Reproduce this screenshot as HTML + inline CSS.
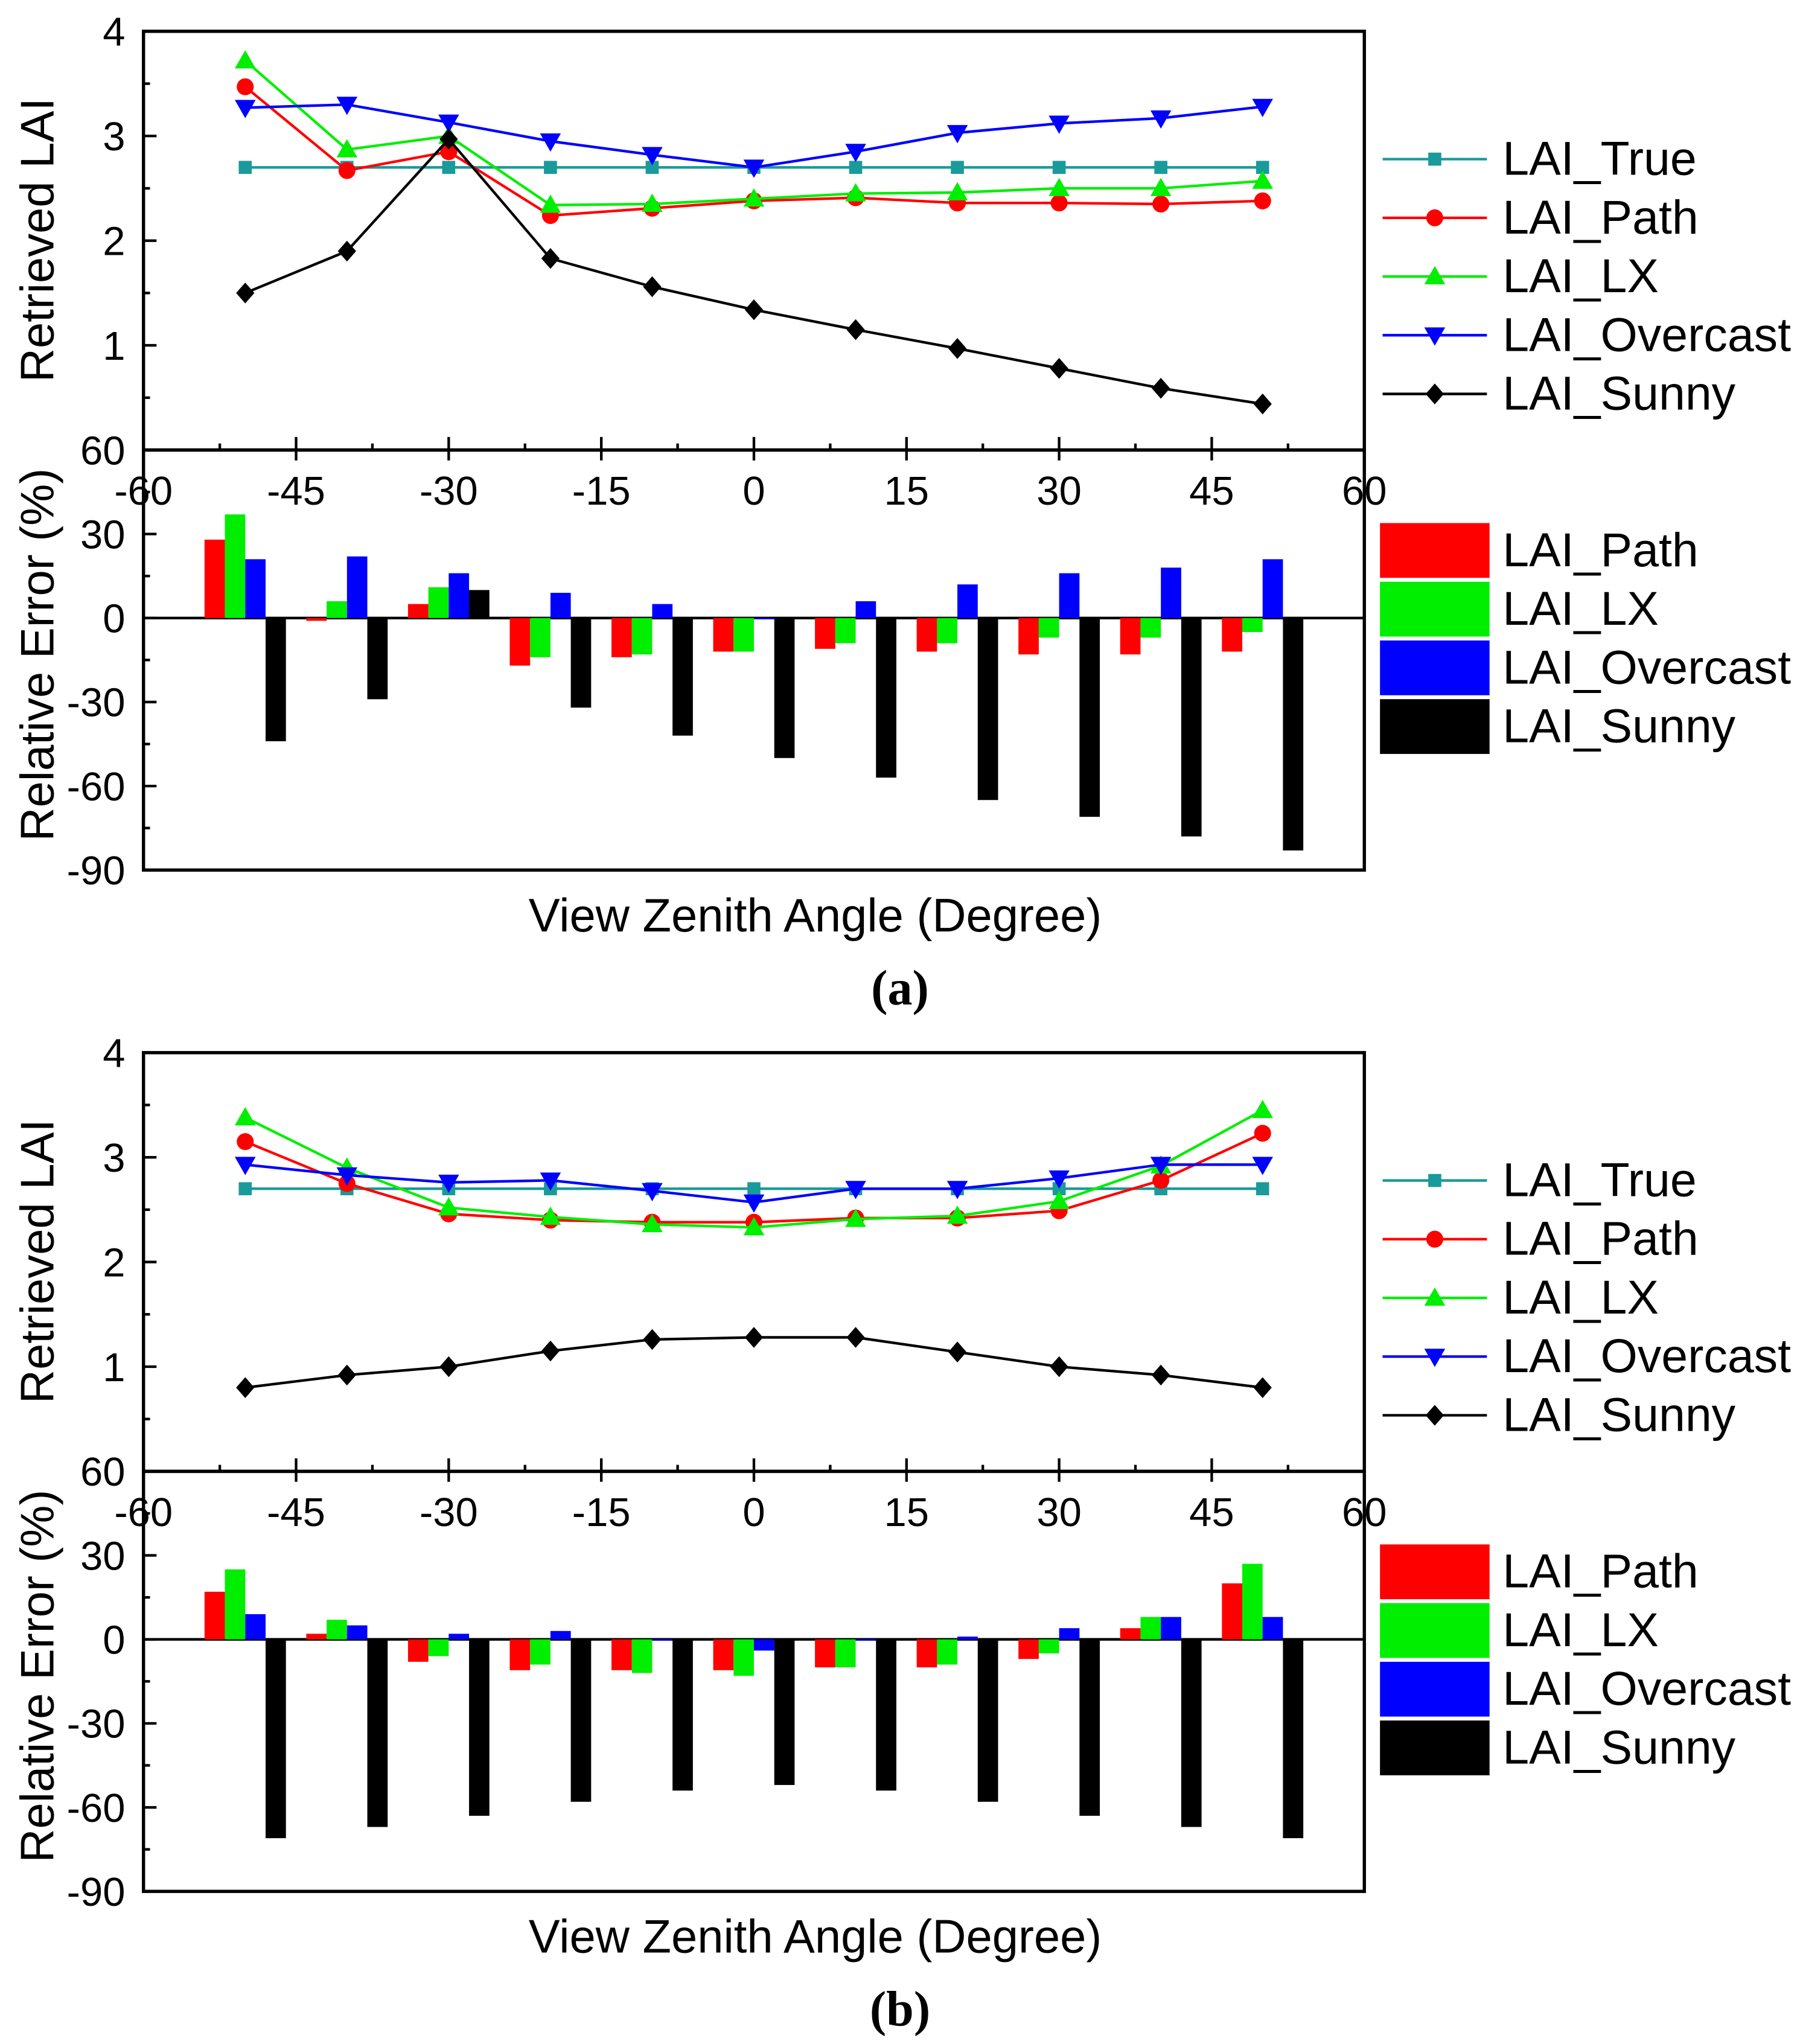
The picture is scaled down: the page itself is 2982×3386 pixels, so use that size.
<!DOCTYPE html>
<html><head><meta charset="utf-8"><style>
html,body{margin:0;padding:0;background:#fff;}
svg{display:block;}
text{font-family:"Liberation Sans",Arial,sans-serif;fill:#000;}
</style></head>
<body>
<svg id="chart" width="2982" height="3386" viewBox="0 0 1380 1567" xmlns="http://www.w3.org/2000/svg"></svg>
<script>
const angles = [-50,-40,-30,-20,-10,0,10,20,30,40,50];
const xTicks = [-60,-45,-30,-15,0,15,30,45,60];
const laiTicks = [0,1,2,3,4];
const errTicks = [-90,-60,-30,0,30,60];
const seriesNames = ["LAI_True","LAI_Path","LAI_LX","LAI_Overcast","LAI_Sunny"];
const barNames = ["LAI_Path","LAI_LX","LAI_Overcast","LAI_Sunny"];
// Panel a
const aTrue = [2.7,2.7,2.7,2.7,2.7,2.7,2.7,2.7,2.7,2.7,2.7];
const aPath = [3.47,2.67,2.85,2.24,2.31,2.38,2.41,2.36,2.36,2.35,2.38];
const aLX = [3.72,2.87,3.0,2.34,2.35,2.40,2.45,2.46,2.50,2.50,2.57];
const aOvercast = [3.27,3.30,3.13,2.95,2.82,2.70,2.85,3.03,3.12,3.17,3.28];
const aSunny = [1.50,1.90,2.97,1.83,1.56,1.34,1.15,0.97,0.78,0.59,0.44];
const aErrPath = [28,-1,5,-17,-14,-12,-11,-12,-13,-13,-12];
const aErrLX = [37,6,11,-14,-13,-12,-9,-9,-7,-7,-5];
const aErrOvercast = [21,22,16,9,5,0,6,12,16,18,21];
const aErrSunny = [-44,-29,10,-32,-42,-50,-57,-65,-71,-78,-83];
// Panel b
const bTrue = [2.7,2.7,2.7,2.7,2.7,2.7,2.7,2.7,2.7,2.7,2.7];
const bPath = [3.15,2.75,2.46,2.40,2.38,2.38,2.42,2.42,2.49,2.78,3.23];
const bLX = [3.38,2.90,2.52,2.43,2.36,2.33,2.41,2.44,2.58,2.92,3.45];
const bOvercast = [2.93,2.83,2.76,2.78,2.68,2.57,2.70,2.70,2.80,2.93,2.93];
const bSunny = [0.80,0.92,1.00,1.15,1.26,1.28,1.28,1.14,1.00,0.92,0.80];
const bErrPath = [17,2,-8,-11,-11,-11,-10,-10,-7,4,20];
const bErrLX = [25,7,-6,-9,-12,-13,-10,-9,-5,8,27];
const bErrOvercast = [9,5,2,3,0,-4,0,1,4,8,8];
const bErrSunny = [-71,-67,-63,-58,-54,-52,-54,-58,-63,-67,-71];

const NS = "http://www.w3.org/2000/svg";
const svg = document.getElementById("chart");
const lineColors = ["#1a9a9a","#ff0000","#00ee00","#0000ff","#000000"];
const barColors = ["#ff0000","#00ee00","#0000ff","#000000"];
const X0 = 110, X1 = 1046;
function sx(v){ return X0 + (v + 60) / 120 * (X1 - X0); }

function mk(tag, attrs, parent){
  const e = document.createElementNS(NS, tag);
  for (const k in attrs) e.setAttribute(k, attrs[k]);
  (parent || svg).appendChild(e);
  return e;
}
function txt(s, x, y, size, parent, anchor){
  const t = mk("text", {x:x, y:y, "font-size":size, "text-anchor":anchor||"middle"}, parent);
  t.textContent = s;
  return t;
}
function marker(g, kind, x, y, color){
  let e;
  if (kind === 0) e = mk("rect", {x:x-5, y:y-5, width:10, height:10, fill:color}, g);
  else if (kind === 1) e = mk("circle", {cx:x, cy:y, r:6.5, fill:color}, g);
  else if (kind === 2) e = mk("polygon", {points:`${x},${y-8} ${x+8},${y+6} ${x-8},${y+6}`, fill:color}, g);
  else if (kind === 3) e = mk("polygon", {points:`${x},${y+8} ${x+8},${y-6} ${x-8},${y-6}`, fill:color}, g);
  else e = mk("polygon", {points:`${x},${y-8} ${x+7},${y} ${x},${y+8} ${x-7},${y}`, fill:color}, g);
  return e;
}

function panel(off, label, lines, errs){
  const TY0 = 24 + off, TY1 = 345 + off, BY1 = 667 + off;
  const ly = v => TY1 - v / 4 * (TY1 - TY0);
  const ey = v => TY1 + (60 - v) / 150 * (BY1 - TY1);
  const g = mk("g", {});
  
  

  const f1 = mk("rect", {x:X0, y:TY0, width:X1-X0, height:TY1-TY0, fill:"none", stroke:"#000", "stroke-width":2.5}, g);
  
  
  const f2 = mk("rect", {x:X0, y:TY1, width:X1-X0, height:BY1-TY1, fill:"none", stroke:"#000", "stroke-width":2.5}, g);
  
  

  laiTicks.forEach(v => {
    mk("line", {x1:X0, x2:X0+10, y1:ly(v), y2:ly(v), stroke:"#000", "stroke-width":2}, g);
    if (v < 4) mk("line", {x1:X0, x2:X0+5, y1:ly(v+0.5), y2:ly(v+0.5), stroke:"#000", "stroke-width":2}, g);
    if (v > 0) {
      const t = txt(String(v), X0-14, ly(v)+11, 31, g, "end");
      
      
    }
  });
  errTicks.forEach(v => {
    mk("line", {x1:X0, x2:X0+10, y1:ey(v), y2:ey(v), stroke:"#000", "stroke-width":2}, g);
    if (v < 60) mk("line", {x1:X0, x2:X0+5, y1:ey(v+15), y2:ey(v+15), stroke:"#000", "stroke-width":2}, g);
    const t = txt(String(v), X0-14, ey(v)+11, 31, g, "end");
    
    
  });
  xTicks.forEach(v => {
    mk("line", {x1:sx(v), x2:sx(v), y1:TY1, y2:TY1-10, stroke:"#000", "stroke-width":2}, g);
    mk("line", {x1:sx(v), x2:sx(v), y1:TY1, y2:TY1+8, stroke:"#000", "stroke-width":2}, g);
    if (v < 60) mk("line", {x1:sx(v+7.5), x2:sx(v+7.5), y1:TY1, y2:TY1-5, stroke:"#000", "stroke-width":2}, g);
    const t = txt(String(v), sx(v), TY1+42, 31, g);
    
    
  });
  mk("line", {x1:X0, x2:X1, y1:ey(0), y2:ey(0), stroke:"#000", "stroke-width":2}, g);

  errs.forEach((arr, si) => {
    arr.forEach((v, i) => {
      const cx = sx(angles[i] + (si * 2 - 3));
      const w = sx(2) - sx(0);
      const y0 = ey(Math.max(v,0)), y1 = ey(Math.min(v,0));
      const r = mk("rect", {x:cx-w/2, y:y0, width:w, height:Math.max(y1-y0,1), fill:barColors[si]}, g);
      
      
    });
  });

  lines.forEach((arr, si) => {
    const pts = arr.map((v,i) => sx(angles[i]) + "," + ly(v)).join(" ");
    const pl = mk("polyline", {points:pts, fill:"none", stroke:lineColors[si], "stroke-width":2}, g);
    
    
    arr.forEach((v,i) => {
      const m = marker(g, si, sx(angles[i]), ly(v), lineColors[si]);
      
      
    });
  });

  const t1 = txt("Retrieved LAI", 0, 0, 36, g);
  t1.setAttribute("transform", `translate(41,${184+off}) rotate(-90)`);
  
  
  const t2 = txt("Relative Error (%)", 0, 0, 36, g);
  t2.setAttribute("transform", `translate(41,${502+off}) rotate(-90)`);
  
  
  const t3 = txt("View Zenith Angle (Degree)", 625, 714+off, 36, g);
  
  
  const t4 = txt("(" + label + ")", 690, 770+off, 38, g);
  t4.setAttribute("style", "font-family:'Liberation Serif',serif;font-weight:bold");
  
  

  seriesNames.forEach((n, si) => {
    const y = 122 + si * 45 + off;
    const le = mk("g", {}, g);
    
    
    mk("line", {x1:1060, x2:1140, y1:y, y2:y, stroke:lineColors[si], "stroke-width":2}, le);
    marker(le, si, 1100, y, lineColors[si]);
    txt(n, 1152, y+12, 36.5, le, "start");
  });
  barNames.forEach((n, si) => {
    const y = 422 + si * 45 + off;
    const le = mk("g", {}, g);
    
    
    mk("rect", {x:1058, y:y-21, width:84, height:42, fill:barColors[si]}, le);
    txt(n, 1152, y+12, 36.5, le, "start");
  });
}

panel(0, "a", [aTrue,aPath,aLX,aOvercast,aSunny], [aErrPath,aErrLX,aErrOvercast,aErrSunny]);
panel(783, "b", [bTrue,bPath,bLX,bOvercast,bSunny], [bErrPath,bErrLX,bErrOvercast,bErrSunny]);
</script>
</body></html>
